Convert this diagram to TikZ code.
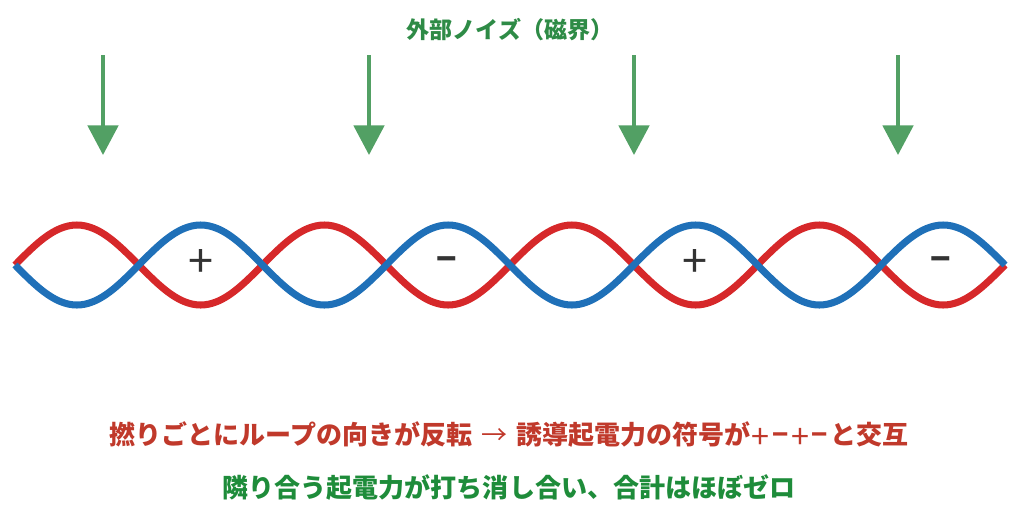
\documentclass[tikz,border=0pt]{standalone}
\usepackage{fontspec}
\setmainfont{Noto Sans CJK JP}
\usetikzlibrary{arrows.meta}
\definecolor{wirered}{RGB}{214,40,42}
\definecolor{wireblue}{RGB}{31,112,184}
\definecolor{fieldgreen}{RGB}{82,160,100}
\definecolor{titlegreen}{RGB}{46,139,70}
\definecolor{notered}{RGB}{192,57,43}
\definecolor{notegreen}{RGB}{30,140,58}
\newcommand{\sgnplus}{\makebox[14.2pt]{\raisebox{-2.5pt}{\fontsize{23}{22}\selectfont\mdseries +}}}
\newcommand{\sgnminus}{\makebox[14.2pt]{\fontsize{19}{22}\selectfont\bfseries −}}
\begin{document}
\begin{tikzpicture}[x=0.025cm, y=-0.025cm]
	\tikzstyle{wire} = [line width=5pt]
	\tikzstyle{field} = [fieldgreen, line width=2.8pt, -{Triangle[length=21pt,width=21.5pt]}]
	\tikzstyle{sign} = [text=black!80, inner sep=0pt]
	\tikzstyle{note} = [font=\fontsize{18.5}{22}\selectfont\bfseries, inner sep=0pt]
	\useasboundingbox (0,0) rectangle (1024,514);
	% title
	\node[font=\fontsize{16.4}{20}\selectfont\bfseries, text=titlegreen](title) at (510,30){外部ノイズ（磁界）};
	% field arrows
	\coordinate (f1s) at (103,55);  \coordinate (f1e) at (103,155);
	\coordinate (f2s) at (369,55);  \coordinate (f2e) at (369,155);
	\coordinate (f3s) at (634,55);  \coordinate (f3e) at (634,155);
	\coordinate (f4s) at (898,55);  \coordinate (f4e) at (898,155);
	\draw[field] (f1s) -- (f1e);
	\draw[field] (f2s) -- (f2e);
	\draw[field] (f3s) -- (f3e);
	\draw[field] (f4s) -- (f4e);
	% twisted pair
	\draw[wire, wirered] plot[domain=15:1005, samples=241, smooth] (\x, {265 - 40*sin(1.454545*(\x-15))});
	\draw[wire, wireblue] plot[domain=15:1005, samples=241, smooth] (\x, {265 + 40*sin(1.454545*(\x-15))});
	% loop signs
	\node[sign, font=\fontsize{32}{36}\selectfont](s1) at (201,263){+};
	\node[sign, font=\fontsize{24}{24}\selectfont\bfseries](s2) at (447,264){−};
	\node[sign, font=\fontsize{32}{36}\selectfont](s3) at (695,263){+};
	\node[sign, font=\fontsize{24}{24}\selectfont\bfseries](s4) at (941,264){−};
	% notes
	\node[note, text=notered](note1) at (509,435){撚りごとにループの向きが反転\makebox[31pt]{\mdseries →}誘導起電力の符号が\sgnplus\sgnminus\sgnplus\sgnminus と交互};
	\node[note, text=notegreen](note2) at (509,488){隣り合う起電力が打ち消し合い、合計はほぼゼロ};
\end{tikzpicture}
\end{document}
